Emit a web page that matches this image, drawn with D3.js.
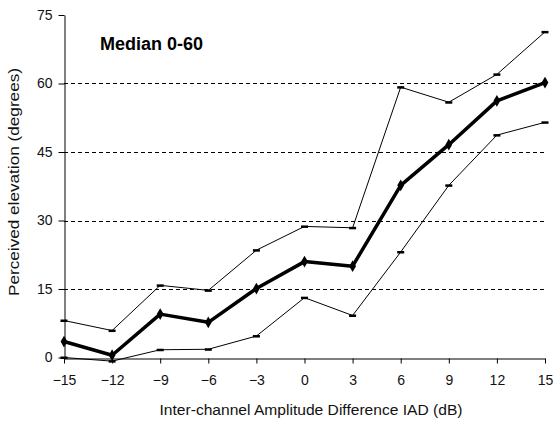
<!DOCTYPE html>
<html>
<head>
<meta charset="utf-8">
<script src="https://cdn.jsdelivr.net/npm/d3@7"></script>
<style>
  html, body { margin: 0; padding: 0; background: #fff; }
  svg { display: block; font-family: "Liberation Sans", Arial, sans-serif; }
</style>
</head>
<body>
<svg id="chart" width="555" height="423"></svg>
<script>
// Inter-channel amplitude difference (dB)
const iad = [-15, -12, -9, -6, -3, 0, 3, 6, 9, 12, 15];
// Perceived elevation (degrees): median and upper/lower quartiles
const median = [3.5, 0.5, 9.5, 7.7, 15.1, 21.0, 20.0, 37.7, 46.6, 56.2, 60.2];
const upper  = [8.1, 5.9, 15.8, 14.7, 23.5, 28.7, 28.4, 59.2, 55.9, 62.0, 71.3];
const lower  = [0.0, -0.8, 1.7, 1.8, 4.7, 13.1, 9.2, 23.1, 37.7, 48.7, 51.5];
const yTicks = [0, 15, 30, 45, 60, 75];
const gridValues = [15, 30, 45, 60];

const svg = d3.select("#chart");
const plot = { left: 64, right: 545, top: 15, bottom: 357.5 };

const x = d3.scaleLinear().domain([-15, 15]).range([plot.left, plot.right]);
const y = d3.scaleLinear().domain([0, 75]).range([plot.bottom, plot.top]);

// dashed horizontal gridlines
svg.append("g")
  .selectAll("line")
  .data(gridValues)
  .join("line")
  .attr("x1", plot.left).attr("x2", plot.right)
  .attr("y1", d => Math.round(y(d)) + 0.5).attr("y2", d => Math.round(y(d)) + 0.5)
  .attr("stroke", "#000").attr("stroke-width", 1)
  .attr("stroke-dasharray", "4,3");

// y axis
const yAxis = svg.append("g")
  .attr("transform", `translate(${plot.left + 0.5},0)`)
  .call(d3.axisLeft(y).tickValues(yTicks).tickSize(6).tickPadding(6).tickSizeOuter(0));
yAxis.select(".domain").attr("stroke", "#000");
yAxis.selectAll("text").attr("font-size", 14).attr("font-family", "Liberation Sans, Arial, sans-serif").attr("fill", "#111");

// x axis
const xAxis = svg.append("g")
  .attr("transform", `translate(0,${Math.round(plot.bottom) + 0.5})`)
  .call(d3.axisBottom(x).tickValues(iad).tickSize(5).tickPadding(12).tickSizeOuter(0));
xAxis.select(".domain").attr("stroke", "#000");
xAxis.selectAll("text").attr("font-size", 14).attr("font-family", "Liberation Sans, Arial, sans-serif").attr("fill", "#111");

const line = d3.line().x((d, i) => x(iad[i])).y(d => y(d));

// quartile lines
[upper, lower].forEach(series => {
  svg.append("path")
    .datum(series)
    .attr("d", line)
    .attr("fill", "none")
    .attr("stroke", "#000")
    .attr("stroke-width", 1);
  svg.append("g")
    .selectAll("rect")
    .data(series)
    .join("rect")
    .attr("x", (d, i) => x(iad[i]) - 3.5)
    .attr("y", d => y(d) - 1)
    .attr("width", 7).attr("height", 2.5)
    .attr("fill", "#000");
});

// median line
svg.append("path")
  .datum(median)
  .attr("d", line)
  .attr("fill", "none")
  .attr("stroke", "#000")
  .attr("stroke-width", 3.5)
  .attr("stroke-linejoin", "round");
svg.append("g")
  .selectAll("path")
  .data(median)
  .join("path")
  .attr("d", d3.symbol(d3.symbolDiamond, 40))
  .attr("transform", (d, i) => `translate(${x(iad[i])},${y(d)})`)
  .attr("fill", "#000");

// title
svg.append("text")
  .attr("x", 100).attr("y", 50)
  .attr("font-size", 18).attr("font-weight", "bold")
  .attr("fill", "#000")
  .text("Median 0-60");

// axis titles
svg.append("text")
  .attr("x", 311).attr("y", 415)
  .attr("text-anchor", "middle")
  .attr("font-size", 14)
  .attr("fill", "#111")
  .attr("textLength", 303).attr("lengthAdjust", "spacingAndGlyphs")
  .text("Inter-channel Amplitude Difference IAD (dB)");

svg.append("text")
  .attr("transform", "translate(19,182) rotate(-90)")
  .attr("text-anchor", "middle")
  .attr("font-size", 14)
  .attr("fill", "#111")
  .attr("textLength", 228).attr("lengthAdjust", "spacingAndGlyphs")
  .text("Perceived elevation (degrees)");
</script>
</body>
</html>
